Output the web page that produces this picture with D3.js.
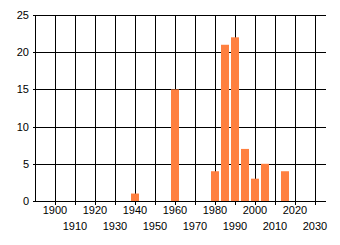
<!DOCTYPE html>
<html>
<head>
<meta charset="utf-8">
<script src="https://cdn.jsdelivr.net/npm/d3@7"></script>
<style>
  body { margin: 0; background: #fff; }
</style>
</head>
<body>
<div id="chart"></div>
<script>
var years = [1940, 1960, 1980, 1985, 1990, 1995, 2000, 2005, 2015];
var counts = [1, 15, 4, 21, 22, 7, 3, 5, 4];
var xTicks = [1900, 1910, 1920, 1930, 1940, 1950, 1960, 1970, 1980, 1990, 2000, 2010, 2020, 2030];
var yTicks = [0, 5, 10, 15, 20, 25];

var W = 340, H = 245;
var plotL = 35, plotR = 326, plotT = 15, plotB = 201;

var svg = d3.select("#chart")
            .append("svg")
            .attr("width", W)
            .attr("height", H)
            .attr("font-family", "Liberation Sans, Arial, sans-serif")
            .attr("font-size", "11px");

var x = d3.scaleLinear().domain([1890, 2035.5]).range([plotL, plotR]);
var y = d3.scaleLinear().domain([0, 25]).range([plotB, plotT]);

// grid
svg.selectAll("line.hgrid")
    .data(yTicks)
    .enter()
    .append("line")
    .attr("class", "hgrid")
    .attr("x1", plotL - 2)
    .attr("x2", plotR)
    .attr("y1", function(d) { return Math.round(y(d)) + 0.5; })
    .attr("y2", function(d) { return Math.round(y(d)) + 0.5; })
    .attr("stroke", "#000");

svg.selectAll("line.vgrid")
    .data([1890].concat(xTicks))
    .enter()
    .append("line")
    .attr("class", "vgrid")
    .attr("x1", function(d) { return Math.round(x(d)) + 0.5; })
    .attr("x2", function(d) { return Math.round(x(d)) + 0.5; })
    .attr("y1", plotT)
    .attr("y2", function(d) { return d == 1890 ? plotB + 1 : plotB + 4; })
    .attr("stroke", "#000");

// bars
svg.selectAll("rect")
    .data(years)
    .enter()
    .append("rect")
    .attr("x", function(d) { return x(d) - 4; })
    .attr("y", function(d, i) { return y(counts[i]); })
    .attr("width", 8)
    .attr("height", function(d, i) { return plotB - y(counts[i]); })
    .attr("fill", "#ff8040");

// y labels
svg.selectAll("text.ylab")
    .data(yTicks)
    .enter()
    .append("text")
    .attr("class", "ylab")
    .attr("x", 29)
    .attr("y", function(d) { return y(d) + 4; })
    .attr("text-anchor", "end")
    .attr("fill", "#000")
    .text(function(d) { return d; });

// x labels, staggered on two rows
svg.selectAll("text.xlab")
    .data(xTicks)
    .enter()
    .append("text")
    .attr("class", "xlab")
    .attr("x", function(d) { return x(d); })
    .attr("y", function(d, i) { return i % 2 == 0 ? 214 : 230; })
    .attr("text-anchor", "middle")
    .attr("fill", "#000")
    .text(function(d) { return d; });
</script>
</body>
</html>
